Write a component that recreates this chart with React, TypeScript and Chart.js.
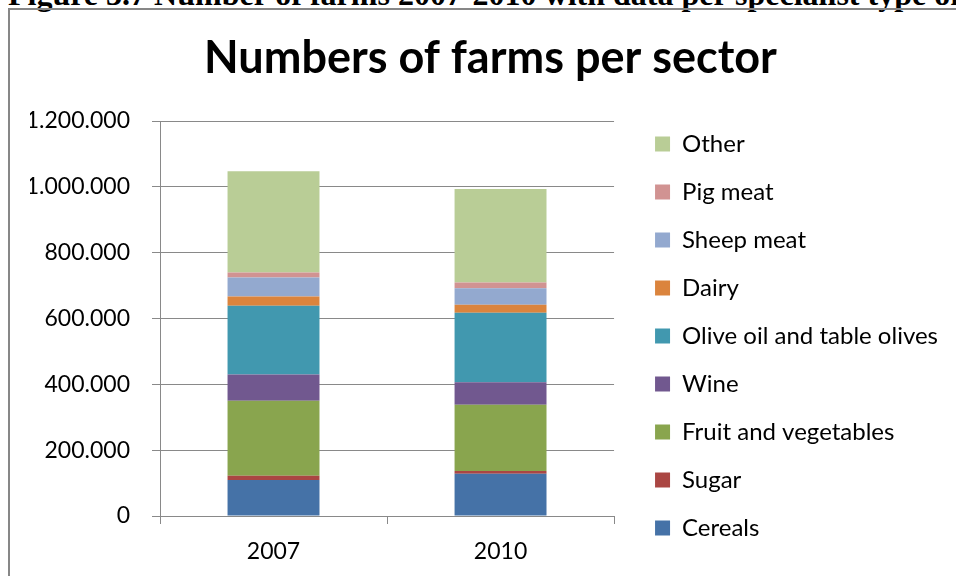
import React, { useEffect, useRef } from "react";
import { Chart, registerables } from "chart.js";

Chart.register(...registerables);

const categories = ["2007", "2010"];

const cereals = [109000, 128500];
const sugar = [13000, 8000];
const fruitVeg = [228000, 201500];
const wine = [80000, 68000];
const olive = [208500, 211500];
const dairy = [28500, 24500];
const sheepMeat = [57500, 50000];
const pigMeat = [15000, 17000];
const other = [308000, 284500];

const seriesNames = [
  "Cereals",
  "Sugar",
  "Fruit and vegetables",
  "Wine",
  "Olive oil and table olives",
  "Dairy",
  "Sheep meat",
  "Pig meat",
  "Other",
];
const seriesValues = [cereals, sugar, fruitVeg, wine, olive, dairy, sheepMeat, pigMeat, other];
const seriesColors = [
  "#4572A7",
  "#AA4643",
  "#89A54E",
  "#71588F",
  "#4198AF",
  "#DB843D",
  "#93A9CF",
  "#D19392",
  "#B9CD96",
];

const yMin = 0;
const yMax = 1200000;
const yStep = 200000;

const chartTitle = "Numbers of farms per sector";
const captionText = "Figure 3.7 Number of farms 2007-2010 with data per specialist type of farming";

const FONT = "Lato, 'Open Sans', sans-serif";
const AXIS_COLOR = "#898989";
const LEGEND_SHIFT = 17;
const TITLE_SHIFT = 10;

function formatThousands(v: number): string {
  return String(Math.round(v)).replace(/\B(?=(\d{3})+(?!\d))/g, ".");
}

const blockShiftPlugin = {
  id: "blockShift",
  afterLayout(chart: any) {
    const lg = chart.legend;
    if (lg) {
      lg.left += LEGEND_SHIFT;
      lg.right += LEGEND_SHIFT;
    }
    const tb = chart.titleBlock;
    if (tb) {
      tb.left += TITLE_SHIFT;
      tb.right += TITLE_SHIFT;
    }
  },
};

export default function App() {
  const canvasRef = useRef<HTMLCanvasElement | null>(null);

  useEffect(() => {
    document.body.style.margin = "0";
    const canvas = canvasRef.current;
    if (!canvas) return;
    const chart = new Chart(canvas, {
      type: "bar",
      data: {
        labels: categories,
        datasets: seriesNames.map((name, i) => ({
          label: name,
          data: seriesValues[i],
          backgroundColor: seriesColors[i],
          borderWidth: 0,
          barPercentage: 0.405,
          categoryPercentage: 1,
        })),
      },
      options: {
        responsive: false,
        animation: false,
        events: [],
        layout: { padding: { left: 30, right: 25, top: 0, bottom: 0 } },
        plugins: {
          title: {
            display: true,
            text: chartTitle,
            color: "#000",
            font: { family: FONT, size: 45, weight: "bold", lineHeight: 1.2 },
            padding: { top: 31, bottom: 36 },
          },
          legend: {
            position: "right",
            align: "start",
            reverse: true,
            maxWidth: 420,
            title: { display: true, text: "", font: { size: 10, lineHeight: 1.2 }, padding: { top: 96, bottom: 0 } },
            labels: {
              boxWidth: 15,
              boxHeight: 15,
              padding: 24,
              color: "#000",
              font: { family: FONT, size: 24 },
            },
          },
          tooltip: { enabled: false },
        },
        scales: {
          x: {
            stacked: true,
            grid: {
              offset: true,
              drawOnChartArea: false,
              drawTicks: true,
              tickLength: 8,
              color: AXIS_COLOR,
              lineWidth: 1,
            },
            border: { display: true, color: AXIS_COLOR, width: 1 },
            ticks: { color: "#000", padding: 14, font: { family: FONT, size: 23 } },
            afterFit: (s: any) => {
              s.height = 60;
            },
          },
          y: {
            stacked: true,
            min: yMin,
            max: yMax,
            grid: {
              color: AXIS_COLOR,
              lineWidth: 1,
              drawTicks: true,
              tickLength: 8,
            },
            border: { display: true, color: AXIS_COLOR, width: 1 },
            ticks: {
              stepSize: yStep,
              color: "#000",
              padding: 22,
              font: { family: FONT, size: 23 },
              callback: (v: any) => formatThousands(Number(v)),
            },
            afterFit: (s: any) => {
              s.width = 130;
            },
          },
        },
      },
      plugins: [blockShiftPlugin],
    });
    return () => chart.destroy();
  }, []);

  return (
    <div style={{ position: "fixed", left: 0, top: 0, width: 956, height: 576, overflow: "hidden", background: "#fff" }}>
      <div
        style={{
          position: "absolute",
          left: 8,
          top: -22,
          whiteSpace: "nowrap",
          fontFamily: "'Liberation Serif', 'Times New Roman', serif",
          fontWeight: "bold",
          fontSize: 32,
          lineHeight: "32px",
          color: "#000",
        }}
      >
        {captionText}
      </div>
      <div
        style={{
          position: "absolute",
          left: 8,
          top: 8,
          width: 1200,
          height: 1000,
          borderLeft: "2px solid #878787",
          borderTop: "2px solid #878787",
          boxSizing: "border-box",
        }}
      />
      <canvas
        ref={canvasRef}
        width={956}
        height={576}
        style={{ position: "absolute", left: 0, top: 0, width: 956, height: 576 }}
      />
    </div>
  );
}
